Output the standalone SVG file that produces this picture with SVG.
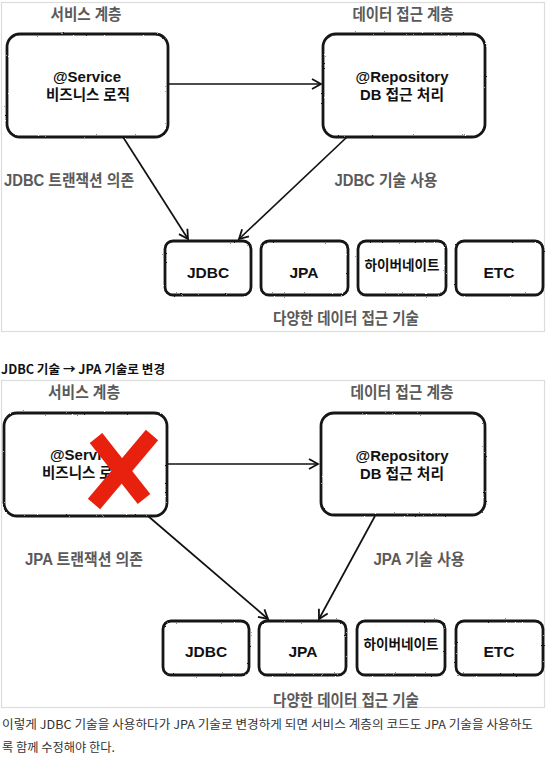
<svg xmlns="http://www.w3.org/2000/svg" width="546" height="758" viewBox="0 0 546 758">
<style>
.frame{fill:#fff;stroke:#dcdcdc;stroke-width:1.2}
.box{fill:#fff;stroke:#151515;stroke-width:2.8;filter:url(#rough)}
.conn{fill:none;stroke:#111;stroke-width:1.7}
.t{font-family:"Liberation Sans","Noto Sans CJK KR",sans-serif;font-weight:bold;text-anchor:middle;dominant-baseline:central}
.bt{font-size:15px;fill:#111}
.lb{font-size:16px;fill:#5a5a5a}
.hd{font-family:"Noto Sans CJK KR","Liberation Sans",sans-serif;font-weight:bold;font-size:12.5px;fill:#111;dominant-baseline:central}
.body{font-family:"Noto Sans CJK KR","Liberation Sans",sans-serif;font-size:12px;fill:#333;dominant-baseline:central}
.x{stroke:#e8210f;stroke-width:16;stroke-linecap:butt;fill:none}
</style>
<defs>
<filter id="rough" x="-5%" y="-5%" width="110%" height="110%">
<feTurbulence type="fractalNoise" baseFrequency="0.9" numOctaves="2" seed="3" result="n"/>
<feDisplacementMap in="SourceGraphic" in2="n" scale="1.8" xChannelSelector="R" yChannelSelector="G"/>
</filter>
<marker id="arr" markerUnits="userSpaceOnUse" markerWidth="14" markerHeight="14" refX="11" refY="7" orient="auto">
<path d="M2,2 L11,7 L2,12" fill="none" stroke="#111" stroke-width="1.8" stroke-linejoin="miter"/>
</marker>
</defs>
<rect width="546" height="758" fill="#fff"/>

<!-- Panel 1 -->
<rect class="frame" x="1.5" y="2.5" width="543" height="329"/>
<text class="t lb" x="86" y="14" textLength="71" lengthAdjust="spacingAndGlyphs">서비스 계층</text>
<text class="t lb" x="403" y="14" textLength="101" lengthAdjust="spacingAndGlyphs">데이터 접근 계층</text>
<text class="t lb" x="69" y="180" textLength="130" lengthAdjust="spacingAndGlyphs">JDBC 트랜잭션 의존</text>
<text class="t lb" x="386" y="180" textLength="103" lengthAdjust="spacingAndGlyphs">JDBC 기술 사용</text>
<text class="t lb" x="346" y="318" textLength="146" lengthAdjust="spacingAndGlyphs">다양한 데이터 접근 기술</text>

<g id="p1-connectors">
<line class="conn" x1="168" y1="84" x2="321" y2="84" marker-end="url(#arr)"/>
<line class="conn" x1="123" y1="137" x2="188" y2="239" marker-end="url(#arr)"/>
<line class="conn" x1="347" y1="137" x2="239" y2="239" marker-end="url(#arr)"/>
</g>

<g id="p1-service">
<rect class="box" x="7" y="34" width="161" height="103" rx="13"/>
<text class="t bt" x="87" y="76">@Service</text>
<text class="t bt" x="88" y="94" textLength="84" lengthAdjust="spacingAndGlyphs">비즈니스 로직</text>
</g>
<g id="p1-repository">
<rect class="box" x="323" y="34" width="162" height="103" rx="13"/>
<text class="t bt" x="402" y="76">@Repository</text>
<text class="t bt" x="402" y="94" textLength="84" lengthAdjust="spacingAndGlyphs">DB 접근 처리</text>
</g>
<g id="p1-jdbc">
<rect class="box" x="165" y="241" width="86" height="54" rx="8"/>
<text class="t bt" x="208" y="272" style="font-size:15.5px">JDBC</text>
</g>
<g id="p1-jpa">
<rect class="box" x="261" y="241" width="87" height="54" rx="8"/>
<text class="t bt" x="304" y="272" style="font-size:15.5px">JPA</text>
</g>
<g id="p1-hibernate">
<rect class="box" x="358" y="241" width="88" height="54" rx="8"/>
<text class="t bt" x="402" y="265" style="font-size:13.5px" textLength="75" lengthAdjust="spacingAndGlyphs">하이버네이트</text>
</g>
<g id="p1-etc">
<rect class="box" x="456" y="241" width="87" height="54" rx="8"/>
<text class="t bt" x="499" y="272" style="font-size:15.5px">ETC</text>
</g>

<!-- Heading -->
<text class="hd" x="1" y="368" textLength="164" lengthAdjust="spacingAndGlyphs">JDBC 기술 → JPA 기술로 변경</text>

<!-- Panel 2 -->
<rect class="frame" x="1.5" y="380.5" width="543" height="327"/>
<text class="t lb" x="84" y="392" textLength="72" lengthAdjust="spacingAndGlyphs">서비스 계층</text>
<text class="t lb" x="402" y="392" textLength="103" lengthAdjust="spacingAndGlyphs">데이터 접근 계층</text>
<text class="t lb" x="84" y="559" textLength="118" lengthAdjust="spacingAndGlyphs">JPA 트랜잭션 의존</text>
<text class="t lb" x="419" y="559" textLength="91" lengthAdjust="spacingAndGlyphs">JPA 기술 사용</text>
<text class="t lb" x="346" y="700" textLength="146" lengthAdjust="spacingAndGlyphs">다양한 데이터 접근 기술</text>

<g id="p2-connectors">
<line class="conn" x1="167" y1="464" x2="318" y2="464" marker-end="url(#arr)"/>
<line class="conn" x1="148" y1="516" x2="268" y2="619" marker-end="url(#arr)"/>
<line class="conn" x1="375" y1="516" x2="319" y2="619" marker-end="url(#arr)"/>
</g>

<g id="p2-service">
<rect class="box" x="4" y="413" width="163" height="103" rx="13"/>
<text class="t bt" x="84" y="454">@Service</text>
<text class="t bt" x="84" y="472" textLength="84" lengthAdjust="spacingAndGlyphs">비즈니스 로직</text>
</g>
<g id="p2-repository">
<rect class="box" x="321" y="413" width="164" height="102" rx="13"/>
<text class="t bt" x="402" y="455">@Repository</text>
<text class="t bt" x="402" y="473" textLength="84" lengthAdjust="spacingAndGlyphs">DB 접근 처리</text>
</g>
<g id="p2-jdbc">
<rect class="box" x="163" y="621" width="86" height="54" rx="8"/>
<text class="t bt" x="206" y="651" style="font-size:15.5px">JDBC</text>
</g>
<g id="p2-jpa">
<rect class="box" x="259" y="621" width="87" height="54" rx="8"/>
<text class="t bt" x="303" y="651" style="font-size:15.5px">JPA</text>
</g>
<g id="p2-hibernate">
<rect class="box" x="357" y="621" width="88" height="54" rx="8"/>
<text class="t bt" x="401" y="644" style="font-size:13.5px" textLength="75" lengthAdjust="spacingAndGlyphs">하이버네이트</text>
</g>
<g id="p2-etc">
<rect class="box" x="456" y="621" width="87" height="54" rx="8"/>
<text class="t bt" x="499" y="651" style="font-size:15.5px">ETC</text>
</g>

<g id="red-x">
<line class="x" x1="96" y1="438" x2="144" y2="499"/>
<line class="x" x1="152" y1="435" x2="94" y2="504"/>
</g>

<!-- Body text -->
<text class="body" x="2" y="723" textLength="531" lengthAdjust="spacingAndGlyphs">이렇게 JDBC 기술을 사용하다가 JPA 기술로 변경하게 되면 서비스 계층의 코드도 JPA 기술을 사용하도</text>
<text class="body" x="2" y="746" textLength="113" lengthAdjust="spacingAndGlyphs">록 함께 수정해야 한다.</text>
</svg>
